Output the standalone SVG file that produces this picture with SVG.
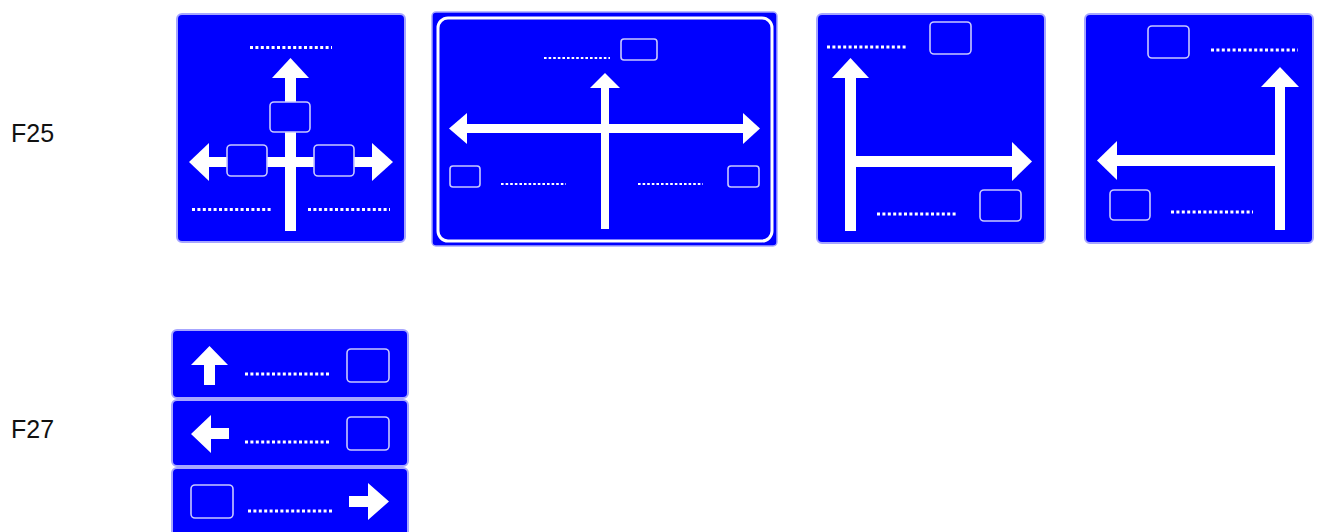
<svg xmlns="http://www.w3.org/2000/svg" width="1320" height="532" viewBox="0 0 1320 532">
<style>
.lbl{font-family:"Liberation Sans",Arial,sans-serif;font-size:25px;fill:#111}
.plate{fill:#0000ff;stroke:#a6a6ff;stroke-width:2}
.box{fill:#0000ff;stroke:#c8c8ff;stroke-width:1.6}
.w{fill:#ffffff}
.dots{stroke:#ffffff;stroke-width:3;stroke-dasharray:3 2.4;fill:none}
.dots2{stroke:#ffffff;stroke-width:2.2;stroke-dasharray:2.6 2;fill:none}
</style>
<rect width="1320" height="532" fill="#ffffff"/>
<text class="lbl" x="11" y="142">F25</text>
<text class="lbl" x="11" y="438">F27</text>

<g id="sign-f25-a">
<rect class="plate" x="177" y="14" width="228" height="228" rx="5"/>
<line class="dots" x1="250" y1="47.5" x2="332" y2="47.5"/>
<rect class="w" x="285" y="77" width="11" height="154"/>
<polygon class="w" points="272,78 290.5,58 309,78"/>
<rect class="w" x="208" y="157" width="165" height="10"/>
<polygon class="w" points="209,143 189,162 209,181"/>
<polygon class="w" points="372,143 393,162 372,181"/>
<rect class="box" x="270" y="102" width="40" height="30" rx="4"/>
<rect class="box" x="227" y="145" width="40" height="31" rx="4"/>
<rect class="box" x="314" y="145" width="40" height="31" rx="4"/>
<line class="dots" x1="192" y1="209.5" x2="273" y2="209.5"/>
<line class="dots" x1="308" y1="209.5" x2="390" y2="209.5"/>
</g>

<g id="sign-f25-b">
<rect x="432" y="12" width="345" height="234" rx="4" fill="#0000ff" stroke="#a6a6ff" stroke-width="1.5"/>
<rect x="438" y="18" width="334" height="223" rx="10" fill="none" stroke="#ffffff" stroke-width="3"/>
<line class="dots2" x1="544" y1="58" x2="610" y2="58"/>
<rect class="box" x="621" y="39" width="36" height="21" rx="3"/>
<rect class="w" x="601" y="87" width="8" height="142"/>
<polygon class="w" points="590,88 605,73 620,88"/>
<rect class="w" x="466" y="124" width="278" height="9"/>
<polygon class="w" points="467,113 449,128.5 467,144"/>
<polygon class="w" points="743,113 760,128.5 743,144"/>
<rect class="box" x="450" y="166" width="30" height="21" rx="3"/>
<rect class="box" x="728" y="166" width="31" height="21" rx="3"/>
<line class="dots2" x1="501" y1="184" x2="566" y2="184"/>
<line class="dots2" x1="638" y1="184" x2="703" y2="184"/>
</g>

<g id="sign-f25-c">
<rect class="plate" x="817" y="14" width="228" height="229" rx="5"/>
<line class="dots" x1="827" y1="47" x2="908" y2="47"/>
<rect class="box" x="930" y="22" width="41" height="32" rx="4"/>
<rect class="w" x="845" y="77" width="11" height="154"/>
<polygon class="w" points="832,78 850.5,58 869,78"/>
<rect class="w" x="855" y="156" width="158" height="11"/>
<polygon class="w" points="1012,142 1032,161.5 1012,181"/>
<rect class="box" x="980" y="190" width="41" height="31" rx="4"/>
<line class="dots" x1="877" y1="214" x2="958" y2="214"/>
</g>

<g id="sign-f25-d">
<rect class="plate" x="1085" y="14" width="228" height="229" rx="5"/>
<rect class="box" x="1148" y="26" width="41" height="32" rx="4"/>
<line class="dots" x1="1211" y1="50" x2="1298" y2="50"/>
<rect class="w" x="1275" y="86" width="10" height="144"/>
<polygon class="w" points="1261,87 1280,67 1299,87"/>
<rect class="w" x="1116" y="155" width="169" height="11"/>
<polygon class="w" points="1117,141 1097,160.5 1117,180"/>
<rect class="box" x="1110" y="190" width="40" height="30" rx="4"/>
<line class="dots" x1="1171" y1="212" x2="1253" y2="212"/>
</g>

<g id="sign-f27">
<g id="f27-panel-1">
<rect class="plate" x="172" y="330" width="236" height="68" rx="5"/>
<polygon class="w" points="191,365 209.5,346 228,365 215,365 215,385 204,385 204,365"/>
<line class="dots" x1="245" y1="374" x2="330" y2="374"/>
<rect class="box" x="347" y="349" width="42" height="33" rx="4"/>
</g>
<g id="f27-panel-2">
<rect class="plate" x="172" y="400" width="236" height="66" rx="5"/>
<polygon class="w" points="211,415 191,434 211,453 211,439 229,439 229,428 211,428"/>
<line class="dots" x1="245" y1="442" x2="330" y2="442"/>
<rect class="box" x="347" y="417" width="42" height="33" rx="4"/>
</g>
<g id="f27-panel-3">
<rect class="plate" x="172" y="468" width="236" height="72" rx="5"/>
<rect class="box" x="191" y="485" width="42" height="33" rx="4"/>
<line class="dots" x1="248" y1="511" x2="333" y2="511"/>
<polygon class="w" points="349,496 368,496 368,483 389,501.5 368,520 368,507 349,507"/>
</g>
</g>
</svg>
